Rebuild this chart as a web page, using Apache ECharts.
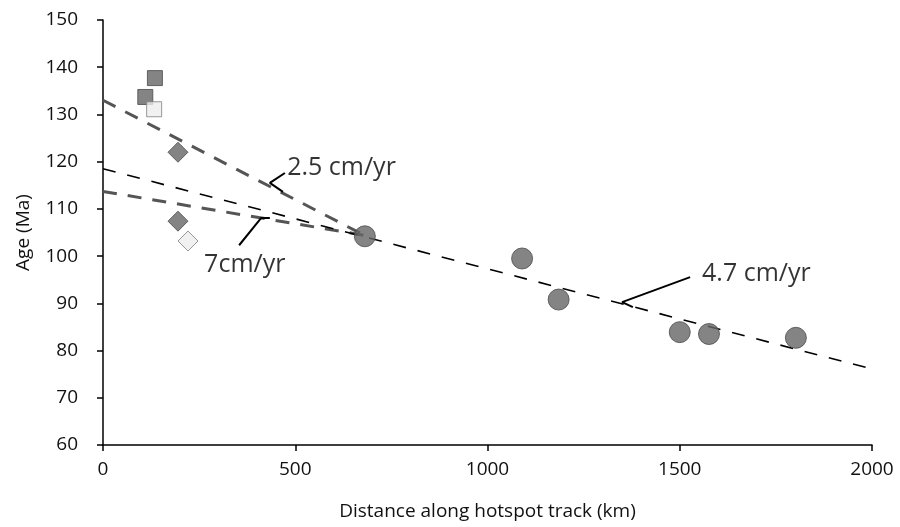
<!DOCTYPE html>
<html><head><meta charset="utf-8">
<script src="https://cdn.jsdelivr.net/npm/echarts@6/dist/echarts.min.js"></script>
<style>html,body{margin:0;padding:0;background:#fff}#c{width:900px;height:527px}</style>
</head><body><div id="c"></div>
<script>
// Data (distance km, age Ma)
const squaresDark = [[110,133.7],[135,137.7]];
const squaresLight = [[133,131.1]];
const diamondsDark = [[195,122.0],[195,107.4]];
const diamondsLight = [[221,103.2]];
const circles = [[681,104.2],[1090,99.5],[1185,90.8],[1500,83.9],[1576,83.5],[1802,82.7]];
// Fit lines
const fit47 = [[0,118.5],[2000,76.1]];
const fit25 = [[0,133.0],[680,104.4]];
const fit7 = [[0,113.7],[680,104.4]];
// Annotation leaders and labels
const leader25 = [[473,117.6],[434,115.5],[468,113.6]];
const leader7 = [[354,102.3],[411,108.05],[434,108.05]];
const leader47 = [[1527,95.55],[1350,90.25],[1378,89.2]];
const labels = [
  {text:'2.5 cm/yr', at:[479,118.6]},
  {text:'7cm/yr', at:[263,98.1]},
  {text:'4.7 cm/yr', at:[1558,96.2]}
];
const xTicks = {min:0,max:2000,interval:500};
const yTicks = {min:60,max:150,interval:10};

const FONT = '"Open Sans", sans-serif';
const chart = echarts.init(document.getElementById('c'), null, {renderer:'canvas'});
const dashLine = (data, color, width, dash) => ({
  type:'line', data, symbol:'none', silent:true, z:2,
  lineStyle:{color, width, type:dash}
});
const leader = (data) => ({
  type:'line', data, symbol:'none', silent:true, z:3,
  lineStyle:{color:'#000', width:2}
});
chart.setOption({
  animation:false,
  grid:{left:103,right:28,top:20,bottom:82,containLabel:false},
  xAxis:{
    type:'value', min:xTicks.min, max:xTicks.max, interval:xTicks.interval,
    name:'Distance along hotspot track (km)', nameLocation:'middle', nameGap:57,
    nameTextStyle:{fontFamily:FONT,fontSize:19,color:'#111'},
    axisLine:{lineStyle:{color:'#000',width:1.5}},
    axisTick:{show:true,length:6,lineStyle:{color:'#000',width:1.5}},
    axisLabel:{fontFamily:FONT,fontSize:19,color:'#111',margin:15,formatter:v=>String(v)},
    splitLine:{show:false}
  },
  yAxis:{
    type:'value', min:yTicks.min, max:yTicks.max, interval:yTicks.interval,
    name:'Age (Ma)', nameLocation:'middle', nameGap:70, nameRotate:90,
    nameTextStyle:{fontFamily:FONT,fontSize:19,color:'#111'},
    axisLine:{show:true,lineStyle:{color:'#000',width:1.5}},
    axisTick:{show:true,length:6,lineStyle:{color:'#000',width:1.5}},
    axisLabel:{fontFamily:FONT,fontSize:19,color:'#111',margin:25,formatter:v=>String(v)},
    splitLine:{show:false}
  },
  series:[
    dashLine(fit25,'#555',3,[14,11]),
    dashLine(fit7,'#555',3,[14,11]),
    dashLine(fit47,'#000',1.6,[13,12]),
    leader(leader25), leader(leader7), leader(leader47),
    {type:'scatter',data:squaresDark,symbol:'rect',symbolSize:15,z:4,
     itemStyle:{color:'#656565',borderColor:'#4a4a4a',borderWidth:1}},
    {type:'scatter',data:squaresLight,symbol:'rect',symbolSize:15,z:4,
     itemStyle:{color:'#eee',borderColor:'#808080',borderWidth:1}},
    {type:'scatter',data:diamondsDark,symbol:'diamond',symbolSize:[20,20],z:4,
     itemStyle:{color:'#656565',borderColor:'#4a4a4a',borderWidth:1}},
    {type:'scatter',data:diamondsLight,symbol:'diamond',symbolSize:[20,20],z:4,
     itemStyle:{color:'#eee',borderColor:'#808080',borderWidth:1}},
    {type:'scatter',data:circles,symbol:'circle',symbolSize:21,z:4,
     itemStyle:{color:'#656565',borderColor:'#4a4a4a',borderWidth:1}},
    {type:'scatter',symbolSize:0,z:5,silent:true,
     data:labels.map(l=>({value:l.at,name:l.text})),
     label:{show:true,position:'right',distance:0,formatter:p=>p.name,
       fontFamily:FONT,fontSize:25,color:'#000',align:'left',verticalAlign:'middle'}}
  ]
});
</script></body></html>
